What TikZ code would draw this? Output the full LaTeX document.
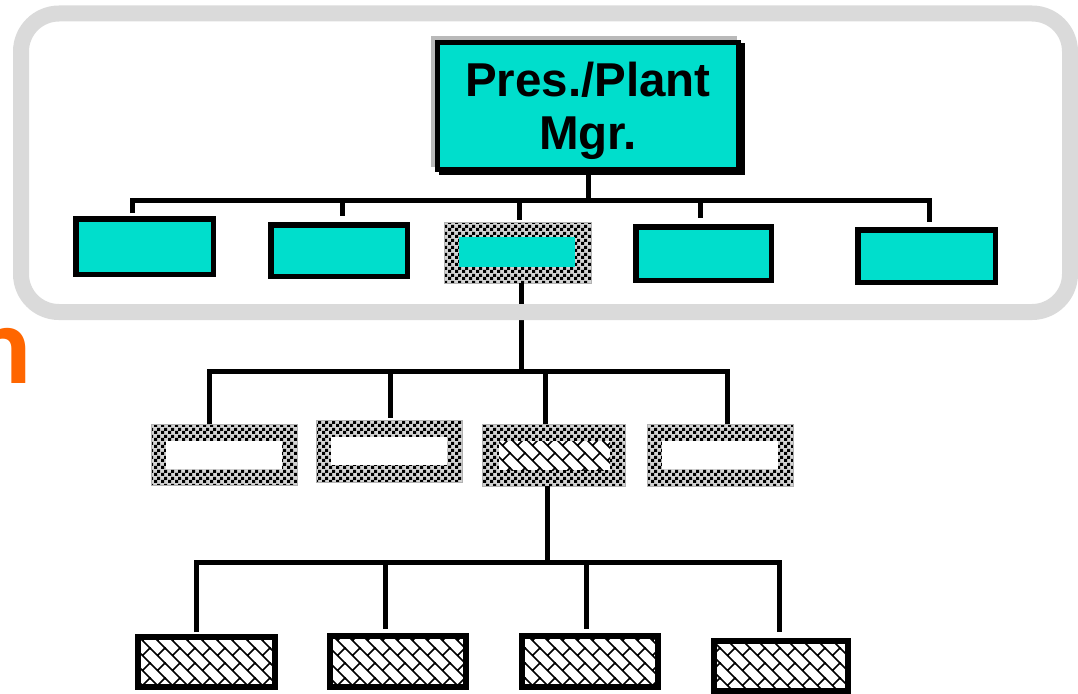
\documentclass[tikz,border=0pt]{standalone}
\usepackage{fontspec}
\setmainfont{Liberation Sans}
\newfontfamily\carlito{Carlito}
\usetikzlibrary{patterns}
\definecolor{cyanbox}{RGB}{0,222,204}
\definecolor{bandgray}{RGB}{218,218,218}
\definecolor{orangeT}{RGB}{255,102,0}
\pgfdeclarepatternformonly{chk}{\pgfqpoint{0pt}{0pt}}{\pgfqpoint{7pt}{7pt}}{\pgfqpoint{7pt}{7pt}}{%
  \pgfpathrectangle{\pgfqpoint{0pt}{0pt}}{\pgfqpoint{3.5pt}{3.5pt}}%
  \pgfpathrectangle{\pgfqpoint{3.5pt}{3.5pt}}{\pgfqpoint{3.5pt}{3.5pt}}%
  \pgfusepath{fill}}
\pgfdeclarepatternformonly{brick}{\pgfqpoint{-1pt}{-1pt}}{\pgfqpoint{16pt}{16pt}}{\pgfqpoint{15pt}{15pt}}{%
  \pgfsetlinewidth{1.5pt}%
  \pgfpathmoveto{\pgfqpoint{-1pt}{16pt}}\pgfpathlineto{\pgfqpoint{16pt}{-1pt}}%
  \pgfpathmoveto{\pgfqpoint{7.5pt}{7.5pt}}\pgfpathlineto{\pgfqpoint{15.5pt}{15.5pt}}%
  \pgfusepath{stroke}}
\begin{document}
\begin{tikzpicture}[x=1pt,y=-1pt,
  conn/.style={line width=5pt},
  cybox/.style={draw, line width=5.5pt, fill=cyanbox, inner sep=0pt},
  chkbox/.style={draw=gray!60, line width=0.8pt, preaction={fill=gray!35}, pattern=chk, inner sep=0pt},
  whitein/.style={fill=white, inner sep=0pt},
  cyin/.style={fill=cyanbox, inner sep=0pt},
  hatchin/.style={preaction={fill=white}, pattern=brick, inner sep=0pt},
  hatchbox/.style={draw, line width=6pt, preaction={fill=white}, pattern=brick, inner sep=0pt},
]
\clip (0,0) rectangle (1078,693);
% title fragment
\node[anchor=base west, inner sep=0pt, text=orangeT, font=\carlito\bfseries\fontsize{112}{112}\selectfont] (ttl) at (-29,383) {n};
% top box with shadows
\fill[gray!55] (431,36) rectangle (737,167);
\fill[black] (439,43) rectangle (745,175);
\node[cybox, line width=5pt, minimum width=301pt, minimum height=127pt, align=center, text depth=0pt,
  font=\bfseries\fontsize{47.5}{53}\selectfont] (top) at (588,106) {Pres./Plant\\Mgr.};
% level 1
\node[cybox, minimum width=137.5pt, minimum height=55.5pt] (b1) at (144.5,246.5) {};
\node[cybox, minimum width=136.5pt, minimum height=51.5pt] (b2) at (339,250.5) {};
\node[chkbox, minimum width=147pt, minimum height=61pt] (b3) at (517.5,252.5) {};
\node[cyin, minimum width=116pt, minimum height=30pt] (b3in) at (517,252) {};
\node[cybox, minimum width=135.5pt, minimum height=53.5pt] (b4) at (703.5,253.5) {};
\node[cybox, minimum width=137.5pt, minimum height=52.5pt] (b5) at (926.5,256) {};
% level 1 connectors
\coordinate (s1) at (132,213);
\coordinate (bus1R) at (929,200);
\coordinate (s5) at (929,222);
\draw[conn] (top.south) -- (top.south |- bus1R);
\draw[conn] (s1) |- (bus1R) -- (s5);
\coordinate (s2) at (342,216);
\coordinate (s3) at (519,220);
\coordinate (s4) at (700,218);
\draw[conn] (s2 |- bus1R) -- (s2);
\draw[conn] (s3 |- bus1R) -- (s3);
\draw[conn] (s4 |- bus1R) -- (s4);
% level 2
\node[chkbox, minimum width=146pt, minimum height=61pt] (c1) at (224,454.5) {};
\node[whitein, minimum width=116pt, minimum height=28pt] (c1in) at (224,455) {};
\node[chkbox, minimum width=146pt, minimum height=62pt] (c2) at (389,451) {};
\node[whitein, minimum width=116pt, minimum height=28pt] (c2in) at (389,451) {};
\node[chkbox, minimum width=143pt, minimum height=62pt] (c3) at (553.5,455) {};
\node[hatchin, minimum width=111pt, minimum height=29pt] (c3in) at (554.5,455.5) {};
\node[chkbox, minimum width=146pt, minimum height=62pt] (c4) at (720,455) {};
\node[whitein, minimum width=116pt, minimum height=28pt] (c4in) at (720,455) {};
% level 1 -> level 2
\coordinate (stem2top) at (521,283);
\coordinate (bus2R) at (727,371);
\coordinate (t1) at (209,424);
\coordinate (t2) at (390,418);
\coordinate (t3) at (545,424);
\coordinate (t4) at (727,424);
\draw[conn] (stem2top) -- (stem2top |- bus2R);
\draw[conn] (t1) |- (bus2R) -- (t4);
\draw[conn] (t2 |- bus2R) -- (t2);
\draw[conn] (t3 |- bus2R) -- (t3);
% level 3
\node[hatchbox, minimum width=137pt, minimum height=50pt] (d1) at (206.5,662) {};
\node[hatchbox, minimum width=136pt, minimum height=51pt] (d2) at (398,661.5) {};
\node[hatchbox, minimum width=136pt, minimum height=51pt] (d3) at (590,661.5) {};
\node[hatchbox, minimum width=134pt, minimum height=50pt] (d4) at (781,666) {};
% level 2 -> level 3
\coordinate (bus3R) at (779,562);
\coordinate (u1) at (196,632);
\coordinate (u2) at (385,629);
\coordinate (u3) at (586,629);
\coordinate (u4) at (779,632);
\coordinate (stem3top) at (547,486);
\draw[conn] (stem3top) -- (stem3top |- bus3R);
\draw[conn] (u1) |- (bus3R) -- (u4);
\draw[conn] (u2 |- bus3R) -- (u2);
\draw[conn] (u3 |- bus3R) -- (u3);
% gray frame
\draw[bandgray, line width=16pt, rounded corners=38pt] (21,13.5) rectangle (1070,312);
\end{tikzpicture}
\end{document}
